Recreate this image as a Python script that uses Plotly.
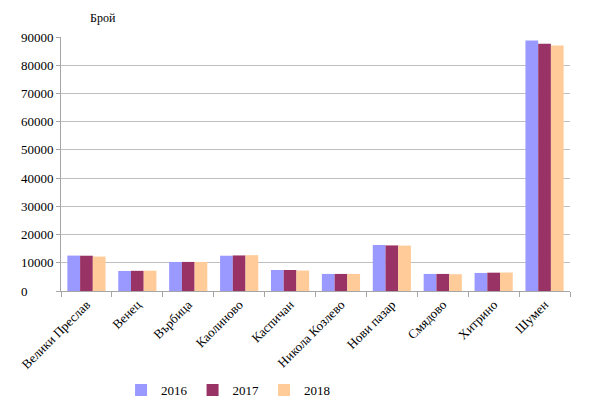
import plotly.graph_objects as go

categories = ["Велики Преслав", "Венец", "Върбица", "Каолиново", "Каспичан",
              "Никола Козлево", "Нови пазар", "Смядово", "Хитрино", "Шумен"]
v2016 = [12550, 7100, 10300, 12500, 7450, 6050, 16300, 6050, 6400, 88800]
v2017 = [12500, 7150, 10300, 12600, 7450, 6050, 16150, 6050, 6500, 87600]
v2018 = [12200, 7200, 10300, 12700, 7250, 6050, 16100, 5950, 6550, 87000]
years = ["2016", "2017", "2018"]
colors = ["#9999FF", "#993366", "#FFCC99"]
y_ticks = [0, 10000, 20000, 30000, 40000, 50000, 60000, 70000, 80000, 90000]
# left-aligned labels as in the reference (padded with figure spaces)
y_ticktext = [str(v).ljust(5, "\u2007") for v in y_ticks]

fig = go.Figure()
for name, vals, c in zip(years, [v2016, v2017, v2018], colors):
    fig.add_trace(go.Bar(x=categories, y=vals, name=name, marker_color=c,
                         marker_line_width=0))

font = "Times New Roman, Liberation Serif, DejaVu Serif, serif"
fig.update_layout(
    width=590, height=409,
    margin=dict(l=53, r=28, t=29, b=126, autoexpand=False),
    paper_bgcolor="white", plot_bgcolor="white",
    barmode="group", bargap=0.25, bargroupgap=0,
    font=dict(family=font, size=12, color="black"),
    showlegend=True,
    legend=dict(orientation="h", x=0.118, xanchor="left", y=-0.39, yanchor="middle",
                font=dict(size=13, family=font), itemwidth=30, tracegroupgap=0),
    annotations=[dict(text="Брой", xref="paper", yref="paper", x=0.053, y=1.075,
                      xanchor="left", yanchor="middle", showarrow=False,
                      font=dict(size=12, family=font))],
)
fig.update_xaxes(showline=True, linecolor="#A6A6A6", linewidth=1, automargin=False,
                 ticks="outside", tickson="boundaries", ticklen=5, tickcolor="#A6A6A6",
                 tickangle=-45, tickfont=dict(size=13, family=font), showgrid=False)
fig.update_yaxes(range=[0, 90000], tickvals=y_ticks, ticktext=y_ticktext,
                 showline=True, linecolor="#A6A6A6",
                 linewidth=1, ticks="outside", ticklen=4, tickcolor="#A6A6A6",
                 automargin=False,
                 showgrid=True, gridcolor="#BFBFBF", gridwidth=1, zeroline=False,
                 tickfont=dict(size=13, family=font))

fig.write_html("out.html")
